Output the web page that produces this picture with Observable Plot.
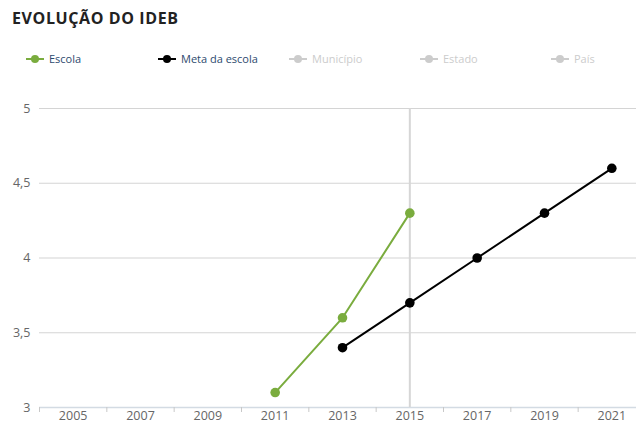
<!DOCTYPE html>
<html>
<head>
<meta charset="utf-8">
<script src="https://cdn.jsdelivr.net/npm/d3@7"></script>
<script src="https://cdn.jsdelivr.net/npm/@observablehq/plot@0.6"></script>
<style>
  html, body { margin: 0; padding: 0; background: #fff; overflow: hidden; }
  body { width: 636px; height: 424px; font-family: "Open Sans", "DejaVu Sans", sans-serif; }
  #title { height: 40px; box-sizing: border-box; padding: 7px 0 0 12px; font-size: 16px; font-weight: 700; color: #222; letter-spacing: 0.6px; }
  #legend { position: relative; height: 50px; }
  .item { position: absolute; top: 11px; display: flex; align-items: center; font-size: 11px; }
  .item svg { margin-right: 5px; }
  #chart svg { display: block; }
</style>
</head>
<body>
<div id="title">EVOLUÇÃO DO IDEB</div>
<div id="legend"></div>
<div id="chart"></div>
<script>
// Categories / ticks
const years = [2005, 2007, 2009, 2011, 2013, 2015, 2017, 2019, 2021];
const bandEdges = [2004, 2006, 2008, 2010, 2012, 2014, 2016, 2018, 2020];
const yTicks = [3, 3.5, 4, 4.5, 5];
const highlightYear = [2015];

// Series
const escolaYears = [2011, 2013, 2015];
const escolaValues = [3.1, 3.6, 4.3];
const metaYears = [2013, 2015, 2017, 2019, 2021];
const metaValues = [3.4, 3.7, 4.0, 4.3, 4.6];

// Legend
const legendNames = ["Escola", "Meta da escola", "Município", "Estado", "País"];
const legendColors = ["#7aac3e", "#000000", "#cccccc", "#cccccc", "#cccccc"];
const legendTextColors = ["#2d4a6e", "#2d4a6e", "#cccccc", "#cccccc", "#cccccc"];
const legendX = [26, 158, 289, 420, 551];

const legend = document.getElementById("legend");
legendNames.forEach((name, i) => {
  const d = document.createElement("div");
  d.className = "item";
  d.style.left = legendX[i] + "px";
  d.innerHTML = `<svg width="18" height="10"><line x1="0" y1="5" x2="18" y2="5" stroke="${legendColors[i]}" stroke-width="2"/><circle cx="9" cy="5" r="4" fill="${legendColors[i]}"/></svg><span style="color:${legendTextColors[i]}">${name}</span>`;
  legend.appendChild(d);
});

const escola = escolaYears.map((y, i) => ({year: y, value: escolaValues[i]}));
const meta = metaYears.map((y, i) => ({year: y, value: metaValues[i]}));
const fmt = d => String(d).replace(".", ",");

const chart = Plot.plot({
  width: 636,
  height: 334,
  marginTop: 18,
  marginBottom: 17,
  marginLeft: 39,
  marginRight: 0,
  style: {fontFamily: "'Open Sans', 'DejaVu Sans', sans-serif", fontSize: "12px", color: "#666", background: "#fff"},
  x: {domain: [2004, 2022], range: [39, 645], axis: null},
  y: {domain: [3, 5], axis: null},
  marks: [
    Plot.ruleY(yTicks.slice(1), {stroke: "#d4d4d4", strokeWidth: 1.2, strokeOpacity: 1}),
    Plot.ruleY([3], {stroke: "#d3dbe3", strokeWidth: 1.5, strokeOpacity: 1}),
    Plot.axisX({ticks: bandEdges, tickSize: 5, tickFormat: () => "", stroke: "#c8c8c8", label: null}),
    Plot.axisX({ticks: years, tickSize: 0, tickPadding: 4, tickFormat: d => String(d), fill: "#666", fontSize: 12.5, label: null, style: {letterSpacing: "0.6px"}}),
    Plot.axisY({ticks: yTicks, tickSize: 0, tickPadding: 9, tickFormat: fmt, fill: "#666", fontSize: 12.5, label: null}),
    Plot.ruleX(highlightYear, {stroke: "#d6d6d6", strokeWidth: 2, strokeOpacity: 1}),
    Plot.line(escola, {x: "year", y: "value", stroke: "#7aac3e", strokeWidth: 2}),
    Plot.dot(escola, {x: "year", y: "value", fill: "#7aac3e", r: 4.8}),
    Plot.line(meta, {x: "year", y: "value", stroke: "#000", strokeWidth: 2}),
    Plot.dot(meta, {x: "year", y: "value", fill: "#000", r: 4.8})
  ]
});
document.getElementById("chart").appendChild(chart);
</script>
</body>
</html>
